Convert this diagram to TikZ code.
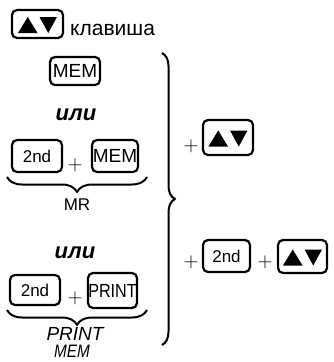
\documentclass[tikz,border=0pt]{standalone}
\usepackage{fontspec}
\setmainfont{Liberation Sans}
\newfontfamily\narrowfont{Liberation Sans}[FakeStretch=0.85]
\usetikzlibrary{decorations.pathreplacing}
\begin{document}
\begin{tikzpicture}[x=1pt,y=-1pt,line join=round,
  key/.style={draw,line width=2.2pt,rounded corners=5pt,inner sep=0pt,
    font=\fontsize{17}{17}\selectfont},
  memkey/.style={key,font=\fontsize{19}{19}\selectfont},
  plussign/.style={inner sep=0pt,font=\fontsize{22}{22}\selectfont},
  ili/.style={inner sep=0pt,anchor=base,font=\fontsize{22}{22}\selectfont\bfseries\itshape},
  lowbrace/.style={decorate,decoration={brace,mirror,amplitude=15pt},line width=2pt},
  bigbrace/.style={decorate,decoration={brace,amplitude=13pt},line width=2pt},
  botlabel/.style={inner sep=0pt,anchor=base},
  updown/.pic={
    \fill (-19.5,9) -- (0,9) -- (-9.75,-7) -- cycle;
    \fill (2,-7) -- (19.5,-7) -- (10.75,9) -- cycle;
  }]
\useasboundingbox (0,0) rectangle (333,362);

% legend
\node[key,minimum width=51pt,minimum height=28pt] (k0) at (37.5,24) {};
\pic at (k0.center) {updown};
\node[anchor=base west,inner sep=0pt,font=\fontsize{21}{21}\selectfont] (t0) at (70,35) {клавиша};

% option 1
\node[memkey,minimum width=50pt,minimum height=28pt] (m1) at (75,71) {MEM};
\node[ili] (o1) at (76,120) {или};

% option 2
\node[key,minimum width=50pt,minimum height=32pt] (s1) at (37,156) {2nd};
\node[plussign] (p1) at (75,165) {$+$};
\node[memkey,minimum width=46pt,minimum height=32pt] (m2) at (115,156) {MEM};
\coordinate (b1l) at (7,177);
\coordinate (b1r) at (147,177);
\draw[lowbrace] (b1l) -- (b1r);
\node[inner sep=0pt,font=\fontsize{17}{17}\selectfont] (mr) at (77,205) {MR};
\node[ili] (o2) at (75,258) {или};

% option 3
\node[key,minimum width=50pt,minimum height=30pt] (s2) at (35,290) {2nd};
\node[plussign] (p2) at (75,298) {$+$};
\node[key,minimum width=49pt,minimum height=35pt,font=\narrowfont\fontsize{19}{19}\selectfont] (pr) at (112.5,290.5) {PRINT};
\coordinate (b2l) at (7,310);
\coordinate (b2r) at (147,310);
\draw[lowbrace] (b2l) -- (b2r);
\node[botlabel,font=\itshape\fontsize{19}{19}\selectfont] (pl1) at (75,340) {PRINT};
\node[botlabel,font=\narrowfont\itshape\fontsize{18}{18}\selectfont] (pl2) at (72,357.5) {MEM};

% big brace
\coordinate (bt) at (162,53);
\coordinate (bb) at (162,345);
\draw[bigbrace] (bt) -- (bb);

% right side
\node[plussign] (p3) at (191,146) {$+$};
\node[key,minimum width=50pt,minimum height=35pt] (k1) at (228,137.5) {};
\pic at (k1.center) {updown};

\node[plussign] (p4) at (191,262) {$+$};
\node[key,minimum width=47pt,minimum height=32pt] (s3) at (226.5,256) {2nd};
\node[plussign] (p5) at (265,262) {$+$};
\node[key,minimum width=49pt,minimum height=33pt] (k2) at (302.5,256.5) {};
\pic at (k2.center) {updown};
\end{tikzpicture}
\end{document}
